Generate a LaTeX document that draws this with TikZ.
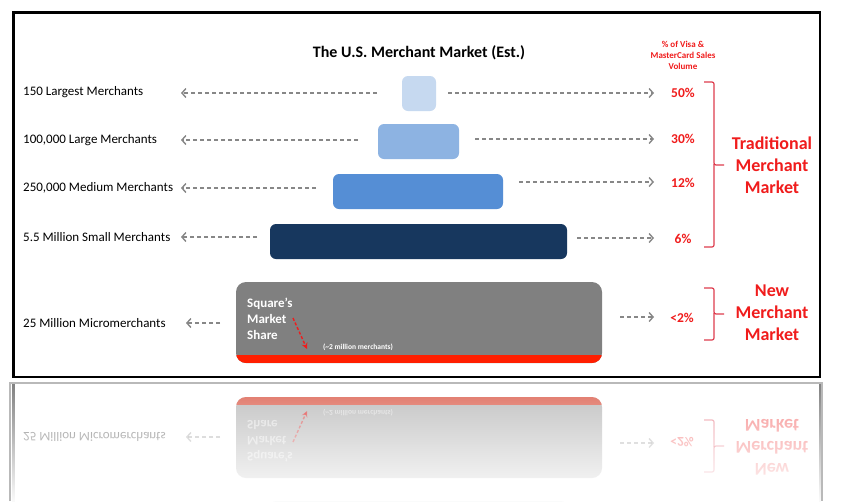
\documentclass[tikz,border=0pt]{standalone}
\usepackage{fontspec}
\setmainfont{Carlito}
\usetikzlibrary{arrows.meta,fadings}
\definecolor{boxA}{RGB}{198,217,240}
\definecolor{boxB}{RGB}{141,179,226}
\definecolor{boxC}{RGB}{85,142,213}
\definecolor{boxD}{RGB}{23,55,94}
\definecolor{mgray}{RGB}{128,128,128}
\definecolor{agray}{RGB}{135,135,135}
\definecolor{tred}{RGB}{240,28,28}
\definecolor{sred}{RGB}{255,30,0}
\definecolor{bred}{RGB}{222,60,78}
\tikzfading[name=reflfade, top color=transparent!100, bottom color=transparent!0]
\tikzset{
  lbl/.style={anchor=west, inner sep=0pt, font=\fontsize{13}{15}\selectfont},
  pct/.style={inner sep=0pt, text=tred, font=\bfseries\fontsize{13.5}{15}\selectfont},
  bar/.style={draw=none, rounded corners=6pt, inner sep=0pt, minimum height=35pt},
  conn/.style={draw=agray, line width=1.4pt, dash pattern=on 4.2pt off 2.8pt,
    -{Straight Barb[length=4pt,width=9pt,line width=1.4pt]}},
  brace/.style={draw=bred, line width=1.2pt, rounded corners=2pt},
  mkt/.style={align=center, text=tred, font=\bfseries\fontsize{18}{22}\selectfont, inner sep=0pt},
}
% upper part of the chart (not visible in the reflection)
\newcommand\merchhigh[1]{%
  \node[font=\bfseries\fontsize{16}{18}\selectfont, inner sep=0pt] (#1title) at (419,53) {The U.S. Merchant Market (Est.)};
  \node[align=center, text=tred, font=\bfseries\fontsize{9}{11}\selectfont, inner sep=0pt] (#1head) at (683,55) {\% of Visa \&\\MasterCard Sales\\Volume};
  \node[bar, fill=boxA, minimum width=34pt] (#1b1) at (419,93.5) {};
  \node[bar, fill=boxB, minimum width=81pt] (#1b2) at (418.5,141.5) {};
  \node[bar, fill=boxC, minimum width=170pt] (#1b3) at (418,191.5) {};
  \node[lbl] (#1l1) at (23,92) {150 Largest Merchants};
  \node[lbl] (#1l2) at (23,140) {100,000 Large Merchants};
  \node[lbl] (#1l3) at (23,188) {250,000 Medium Merchants};
  \node[lbl] (#1l4) at (23,237) {5.5 Million Small Merchants};
  \node[pct] (#1p1) at (683,93) {50\%};
  \node[pct] (#1p2) at (683,139) {30\%};
  \node[pct] (#1p3) at (683,183) {12\%};
  \node[pct] (#1p4) at (683,239) {6\%};
  \coordinate (#1a1s) at (377,93);  \coordinate (#1a1e) at (181,93);
  \coordinate (#1a2s) at (358,140); \coordinate (#1a2e) at (181,140);
  \coordinate (#1a3s) at (316,188); \coordinate (#1a3e) at (181,188);
  \coordinate (#1a4s) at (257,237); \coordinate (#1a4e) at (181,237);
  \coordinate (#1c1s) at (448,93);  \coordinate (#1c1e) at (654,93);
  \coordinate (#1c2s) at (475,139); \coordinate (#1c2e) at (654,139);
  \coordinate (#1c3s) at (519,182); \coordinate (#1c3e) at (654,182);
  \coordinate (#1c4s) at (577,238); \coordinate (#1c4e) at (654,238);
  \foreach \k in {1,...,4}{%
    \draw[conn] (#1a\k s) -- (#1a\k e);
    \draw[conn] (#1c\k s) -- (#1c\k e);
  }
  \draw[brace] (704,82) -| (714,165) -- (724,165);
  \draw[brace] (714,164) |- (704,247);
  \node[mkt] (#1trad) at (772,165) {Traditional\\Merchant\\Market};
}
% lower part of the chart (also mirrored below the frame)
\newcommand\merchlow[1]{%
  \draw[line width=2.5pt] (13.5,12.5) rectangle (820,377);
  \node[bar, fill=boxD, minimum width=297pt] (#1b4) at (418.5,241.5) {};
  \node[draw=none, fill=mgray, rounded corners=10pt, inner sep=0pt, minimum width=366pt, minimum height=81pt] (#1b5) at (419,322.5) {};
  \begin{scope}
    \clip[rounded corners=10pt] (236,282) rectangle (602,363);
    \fill[sred] (236,355) rectangle (602,363);
  \end{scope}
  \node[lbl] (#1l5) at (23,323) {25 Million Micromerchants};
  \node[pct] (#1p5) at (682,318) {<2\%};
  \coordinate (#1a5s) at (220,323); \coordinate (#1a5e) at (186,323);
  \coordinate (#1c5s) at (620,317); \coordinate (#1c5e) at (654,317);
  \draw[conn] (#1a5s) -- (#1a5e);
  \draw[conn] (#1c5s) -- (#1c5e);
  \draw[brace] (704,288) -| (714,314) -- (724,314);
  \draw[brace] (714,313) |- (704,340);
  \node[mkt] (#1new) at (772,313) {New\\Merchant\\Market};
  \node[anchor=west, align=left, text=white, font=\bfseries\fontsize{13}{16}\selectfont, inner sep=0pt] (#1sq) at (247,319) {Square’s\\Market\\Share};
  \node[text=white, font=\bfseries\fontsize{7.5}{8}\selectfont, inner sep=0pt] (#1two) at (358,347) {(\textasciitilde2 million merchants)};
  \coordinate (#1qs) at (293,318);
  \coordinate (#1qe) at (307,349);
  \draw[draw=tred, line width=1.4pt, dash pattern=on 3pt off 2pt, -{Stealth[length=6pt,width=6pt]}] (#1qs) -- (#1qe);
}
\begin{document}
\begin{tikzpicture}[x=1pt,y=-1pt]
\useasboundingbox (0,0) rectangle (845,501);
\fill[white] (0,0) rectangle (845,501);
\merchhigh{m}
\merchlow{m}
\begin{scope}
  \clip (0,380) rectangle (845,501);
  \begin{scope}[yshift=-760pt, yscale=-1, transform shape, opacity=0.5]
    \merchlow{r}
  \end{scope}
\end{scope}
\fill[white, path fading=reflfade] (0,381) rectangle (845,505);
\draw[gray!55, line width=1.5pt] (10,501) -- (10,383) -- (822,383) -- (822,501);
\end{tikzpicture}
\end{document}
